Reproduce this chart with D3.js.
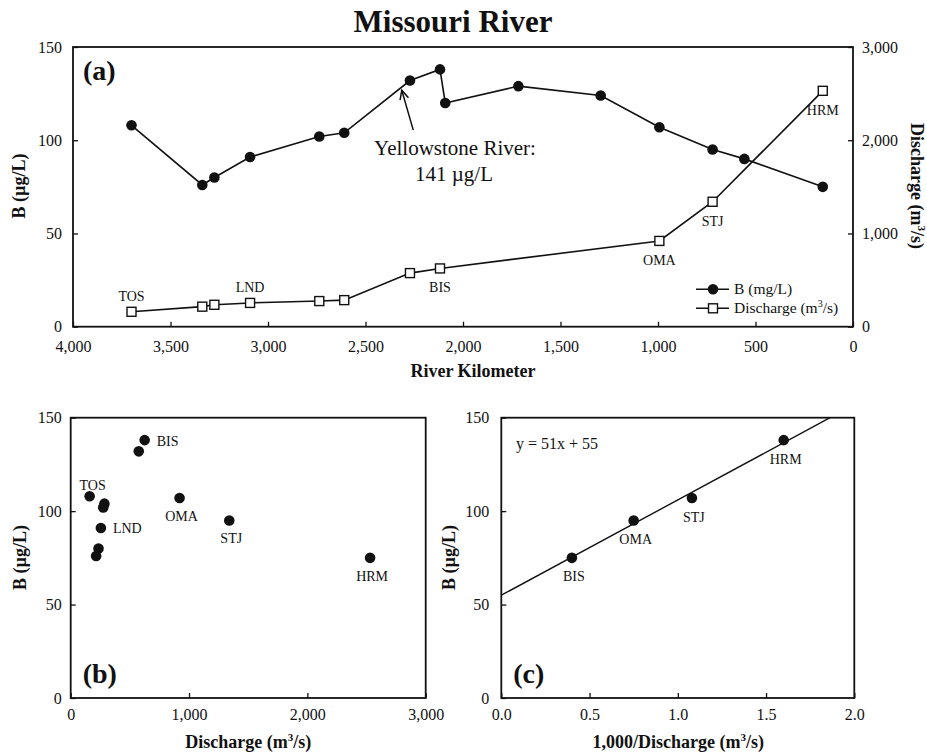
<!DOCTYPE html>
<html>
<head>
<meta charset="utf-8">
<script src="https://cdn.jsdelivr.net/npm/d3@7"></script>
<style>
  html, body { margin: 0; padding: 0; background: #fff; }
  svg { display: block; }
  text { font-family: "Liberation Serif", "Times New Roman", serif; fill: #111; }
</style>
</head>
<body>
<div id="chart"></div>
<script>
// ---------------- DATA ----------------
// Panel (a): river kilometer, boron and discharge at each station
const riverKm   = [3700, 3337, 3275, 3092, 2737, 2609, 2272, 2118, 2091, 1716, 1294, 993, 720, 557, 155];
const boron     = [108, 76, 80, 91, 102, 104, 132, 138, 120, 129, 124, 107, 95, 90, 75];
const discharge = [160, 215, 235, 255, 275, 285, 575, 625, null, null, null, 920, 1340, null, 2530];

// Station labels (index into arrays above)
const stationNames = ["TOS", "LND", "BIS", "OMA", "STJ", "HRM"];
const stationIdx   = [0, 3, 7, 11, 12, 14];

// Panel (c): 1000/discharge vs boron, with fit
const invDischarge = [0.40, 0.75, 1.08, 1.60];
const boronC       = [75, 95, 107, 138];
const labelsC      = ["BIS", "OMA", "STJ", "HRM"];
const fitSlope = 51, fitIntercept = 55;

// Tick values
const kmTicks = [4000, 3500, 3000, 2500, 2000, 1500, 1000, 500, 0];
const bTicks  = [0, 50, 100, 150];
const qTicksA = [0, 1000, 2000, 3000];
const qTicksB = [0, 1000, 2000, 3000];
const invTicks = [0, 0.5, 1.0, 1.5, 2.0];

// Annotation (data coords of arrow tail / tip)
const arrowTail = { km: 2255, b: 105.4 };
const arrowTip  = { km: 2314, b: 126.8 };

// ---------------- DRAWING ----------------
const W = 927, H = 755;
const svg = d3.select("#chart").append("svg").attr("width", W).attr("height", H);

const fmtC = d3.format(",");
const TICK_FONT = 16;

function frame(x0, y0, x1, y1) {
  svg.append("rect").attr("x", x0).attr("y", y0).attr("width", x1 - x0).attr("height", y1 - y0)
    .attr("fill", "none").attr("stroke", "#111").attr("stroke-width", 1.8);
}
function styleAxis(g) {
  g.select(".domain").remove();
  g.selectAll(".tick line").attr("stroke", "#111").attr("stroke-width", 1.3);
  g.selectAll(".tick text").attr("font-family", "Liberation Serif, Times New Roman, serif")
    .attr("font-size", TICK_FONT).attr("fill", "#222");
}

// ===== Panel (a) =====
const xA  = d3.scaleLinear().domain([4000, 0]).range([73, 853]);
const yA  = d3.scaleLinear().domain([0, 150]).range([326.7, 47]);
const yA2 = d3.scaleLinear().domain([0, 3000]).range([326.7, 47]);

svg.append("g").attr("transform", `translate(0,${yA(0)})`)
  .call(d3.axisBottom(xA).tickValues(kmTicks).tickFormat(fmtC).tickSizeInner(-5).tickSizeOuter(0).tickPadding(13.6))
  .call(styleAxis);
svg.append("g").attr("transform", `translate(${xA(4000)},0)`)
  .call(d3.axisLeft(yA).tickValues(bTicks).tickSizeInner(-5).tickSizeOuter(0).tickPadding(11))
  .call(styleAxis);
svg.append("g").attr("transform", `translate(${xA(0)},0)`)
  .call(d3.axisRight(yA2).tickValues(qTicksA).tickFormat(fmtC).tickSizeInner(-5).tickSizeOuter(0).tickPadding(9))
  .call(styleAxis);
frame(xA(4000), yA(150), xA(0), yA(0));

const ptsB = riverKm.map((k, i) => ({ km: k, b: boron[i] }));
const ptsQ = riverKm.map((k, i) => ({ km: k, q: discharge[i] })).filter(d => d.q != null);

svg.append("path").datum(ptsB)
  .attr("d", d3.line().x(d => xA(d.km)).y(d => yA(d.b)))
  .attr("fill", "none").attr("stroke", "#111").attr("stroke-width", 1.6);
svg.append("path").datum(ptsQ)
  .attr("d", d3.line().x(d => xA(d.km)).y(d => yA2(d.q)))
  .attr("fill", "none").attr("stroke", "#111").attr("stroke-width", 1.6);

svg.selectAll(".cA").data(ptsB).enter().append("circle")
  .attr("cx", d => xA(d.km)).attr("cy", d => yA(d.b)).attr("r", 5.3).attr("fill", "#111");
const SQ = 9;
svg.selectAll(".sA").data(ptsQ).enter().append("rect")
  .attr("x", d => xA(d.km) - SQ / 2).attr("y", d => yA2(d.q) - SQ / 2)
  .attr("width", SQ).attr("height", SQ)
  .attr("fill", "#fff").attr("stroke", "#111").attr("stroke-width", 1.4);

// Station labels on (a)
const aboveA = { TOS: true, LND: true };
stationNames.forEach((name, j) => {
  const i = stationIdx[j];
  const cx = xA(riverKm[i]), cy = yA2(discharge[i]);
  svg.append("text").attr("x", cx).attr("y", aboveA[name] ? cy - 11 : cy + 24)
    .attr("text-anchor", "middle").attr("font-size", 14).attr("fill", "#222").text(name);
});

// Annotation
svg.append("text").attr("x", 455).attr("y", 155).attr("text-anchor", "middle")
  .attr("font-size", 21).attr("fill", "#222").text("Yellowstone River:");
svg.append("text").attr("x", 454).attr("y", 181).attr("text-anchor", "middle")
  .attr("font-size", 21).attr("fill", "#222").text("141 µg/L");
{
  const tx = xA(arrowTail.km), ty = yA(arrowTail.b);
  const hx = xA(arrowTip.km), hy = yA(arrowTip.b);
  svg.append("line").attr("x1", tx).attr("y1", ty).attr("x2", hx).attr("y2", hy)
    .attr("stroke", "#111").attr("stroke-width", 1.5);
  const ang = Math.atan2(hy - ty, hx - tx);
  const L = 10, spread = 0.45;
  const p1 = [hx - L * Math.cos(ang - spread), hy - L * Math.sin(ang - spread)];
  const p2 = [hx - L * Math.cos(ang + spread), hy - L * Math.sin(ang + spread)];
  svg.append("path").attr("d", `M${p1[0]},${p1[1]}L${hx},${hy}L${p2[0]},${p2[1]}`)
    .attr("fill", "none").attr("stroke", "#111").attr("stroke-width", 1.5);
}

// Legend (a)
{
  const lx = 713, rows = [289.3, 308.3];
  svg.append("line").attr("x1", lx - 17).attr("x2", lx + 16).attr("y1", rows[0]).attr("y2", rows[0])
    .attr("stroke", "#111").attr("stroke-width", 1.6);
  svg.append("circle").attr("cx", lx).attr("cy", rows[0]).attr("r", 5.3).attr("fill", "#111");
  svg.append("line").attr("x1", lx - 17).attr("x2", lx + 16).attr("y1", rows[1]).attr("y2", rows[1])
    .attr("stroke", "#111").attr("stroke-width", 1.6);
  svg.append("rect").attr("x", lx - SQ / 2).attr("y", rows[1] - SQ / 2).attr("width", SQ).attr("height", SQ)
    .attr("fill", "#fff").attr("stroke", "#111").attr("stroke-width", 1.4);
  svg.append("text").attr("x", 734).attr("y", rows[0] + 5).attr("font-size", 15.5).attr("fill", "#222").text("B (mg/L)");
  const t = svg.append("text").attr("x", 734).attr("y", rows[1] + 5).attr("font-size", 15.5).attr("fill", "#222");
  t.append("tspan").text("Discharge (m");
  t.append("tspan").attr("font-size", 10).attr("dy", -6).text("3");
  t.append("tspan").attr("dy", 6).text("/s)");
}

// Titles & labels (a)
svg.append("text").attr("x", 453).attr("y", 31.5).attr("text-anchor", "middle")
  .attr("font-size", 31).attr("font-weight", "bold").text("Missouri River");
svg.append("text").attr("x", 83).attr("y", 80).attr("font-size", 28).attr("font-weight", "bold").text("(a)");
svg.append("text").attr("x", 473).attr("y", 377).attr("text-anchor", "middle")
  .attr("font-size", 18).attr("font-weight", "bold").text("River Kilometer");
svg.append("text").attr("transform", "translate(25,186) rotate(-90)").attr("text-anchor", "middle")
  .attr("font-size", 18).attr("font-weight", "bold").text("B (µg/L)");
{
  const t = svg.append("text").attr("transform", "translate(911,186) rotate(90)").attr("text-anchor", "middle")
    .attr("font-size", 18).attr("font-weight", "bold");
  t.append("tspan").text("Discharge (m");
  t.append("tspan").attr("font-size", 11).attr("dy", -7).text("3");
  t.append("tspan").attr("dy", 7).text("/s)");
}

// ===== Panel (b) =====
const xB = d3.scaleLinear().domain([0, 3000]).range([70.7, 425.7]);
const yB = d3.scaleLinear().domain([0, 150]).range([698, 417.7]);
svg.append("g").attr("transform", `translate(0,${yB(0)})`)
  .call(d3.axisBottom(xB).tickValues(qTicksB).tickFormat(fmtC).tickSizeInner(-5).tickSizeOuter(0).tickPadding(10.6))
  .call(styleAxis);
svg.append("g").attr("transform", `translate(${xB(0)},0)`)
  .call(d3.axisLeft(yB).tickValues(bTicks).tickSizeInner(-5).tickSizeOuter(0).tickPadding(9))
  .call(styleAxis);
frame(xB(0), yB(150), xB(3000), yB(0));

const ptsBQ = riverKm.map((k, i) => ({ q: discharge[i], b: boron[i], i })).filter(d => d.q != null);
svg.selectAll(".cB").data(ptsBQ).enter().append("circle")
  .attr("cx", d => xB(d.q)).attr("cy", d => yB(d.b)).attr("r", 5.3).attr("fill", "#111");

const placeB = { TOS: "above", LND: "right", BIS: "right", OMA: "below", STJ: "below", HRM: "below" };
stationNames.forEach((name, j) => {
  const i = stationIdx[j];
  const cx = xB(discharge[i]), cy = yB(boron[i]);
  const p = placeB[name];
  const t = svg.append("text").attr("font-size", 14).attr("fill", "#222").text(name);
  if (p === "above") t.attr("x", cx + 3).attr("y", cy - 6).attr("text-anchor", "middle");
  else if (p === "right") t.attr("x", cx + 12).attr("y", cy + 5.5).attr("text-anchor", "start");
  else t.attr("x", cx + 2).attr("y", cy + 23).attr("text-anchor", "middle");
});

svg.append("text").attr("x", 82.7).attr("y", 683).attr("font-size", 28).attr("font-weight", "bold").text("(b)");
{
  const t = svg.append("text").attr("x", 248.3).attr("y", 748).attr("text-anchor", "middle")
    .attr("font-size", 18).attr("font-weight", "bold");
  t.append("tspan").text("Discharge (m");
  t.append("tspan").attr("font-size", 11).attr("dy", -7).text("3");
  t.append("tspan").attr("dy", 7).text("/s)");
}
svg.append("text").attr("transform", "translate(26,557.5) rotate(-90)").attr("text-anchor", "middle")
  .attr("font-size", 18).attr("font-weight", "bold").text("B (µg/L)");

// ===== Panel (c) =====
const xC = d3.scaleLinear().domain([0, 2]).range([501.3, 854.3]);
const yC = d3.scaleLinear().domain([0, 150]).range([698, 417.7]);
svg.append("g").attr("transform", `translate(0,${yC(0)})`)
  .call(d3.axisBottom(xC).tickValues(invTicks).tickFormat(d3.format(".1f")).tickSizeInner(-5).tickSizeOuter(0).tickPadding(10.6))
  .call(styleAxis);
svg.append("g").attr("transform", `translate(${xC(0)},0)`)
  .call(d3.axisLeft(yC).tickValues(bTicks).tickSizeInner(-5).tickSizeOuter(0).tickPadding(12))
  .call(styleAxis);
frame(xC(0), yC(150), xC(2), yC(0));

// Fit line
{
  const xEnd = (150 - fitIntercept) / fitSlope;
  svg.append("line").attr("x1", xC(0)).attr("y1", yC(fitIntercept))
    .attr("x2", xC(xEnd)).attr("y2", yC(150)).attr("stroke", "#111").attr("stroke-width", 1.4);
}
const ptsC = invDischarge.map((x, i) => ({ x, b: boronC[i], label: labelsC[i] }));
svg.selectAll(".cC").data(ptsC).enter().append("circle")
  .attr("cx", d => xC(d.x)).attr("cy", d => yC(d.b)).attr("r", 5.3).attr("fill", "#111");
svg.selectAll(".lC").data(ptsC).enter().append("text")
  .attr("x", d => xC(d.x) + 2).attr("y", d => yC(d.b) + 23.5).attr("text-anchor", "middle")
  .attr("font-size", 14).attr("fill", "#222").text(d => d.label);

svg.append("text").attr("x", 516).attr("y", 449).attr("font-size", 16).attr("fill", "#222")
  .text(`y = ${fitSlope}x + ${fitIntercept}`);
svg.append("text").attr("x", 513.3).attr("y", 683).attr("font-size", 28).attr("font-weight", "bold").text("(c)");
{
  const t = svg.append("text").attr("x", 678.3).attr("y", 748).attr("text-anchor", "middle")
    .attr("font-size", 18).attr("font-weight", "bold");
  t.append("tspan").text("1,000/Discharge (m");
  t.append("tspan").attr("font-size", 11).attr("dy", -7).text("3");
  t.append("tspan").attr("dy", 7).text("/s)");
}
svg.append("text").attr("transform", "translate(455,557.5) rotate(-90)").attr("text-anchor", "middle")
  .attr("font-size", 18).attr("font-weight", "bold").text("B (µg/L)");
</script>
</body>
</html>
